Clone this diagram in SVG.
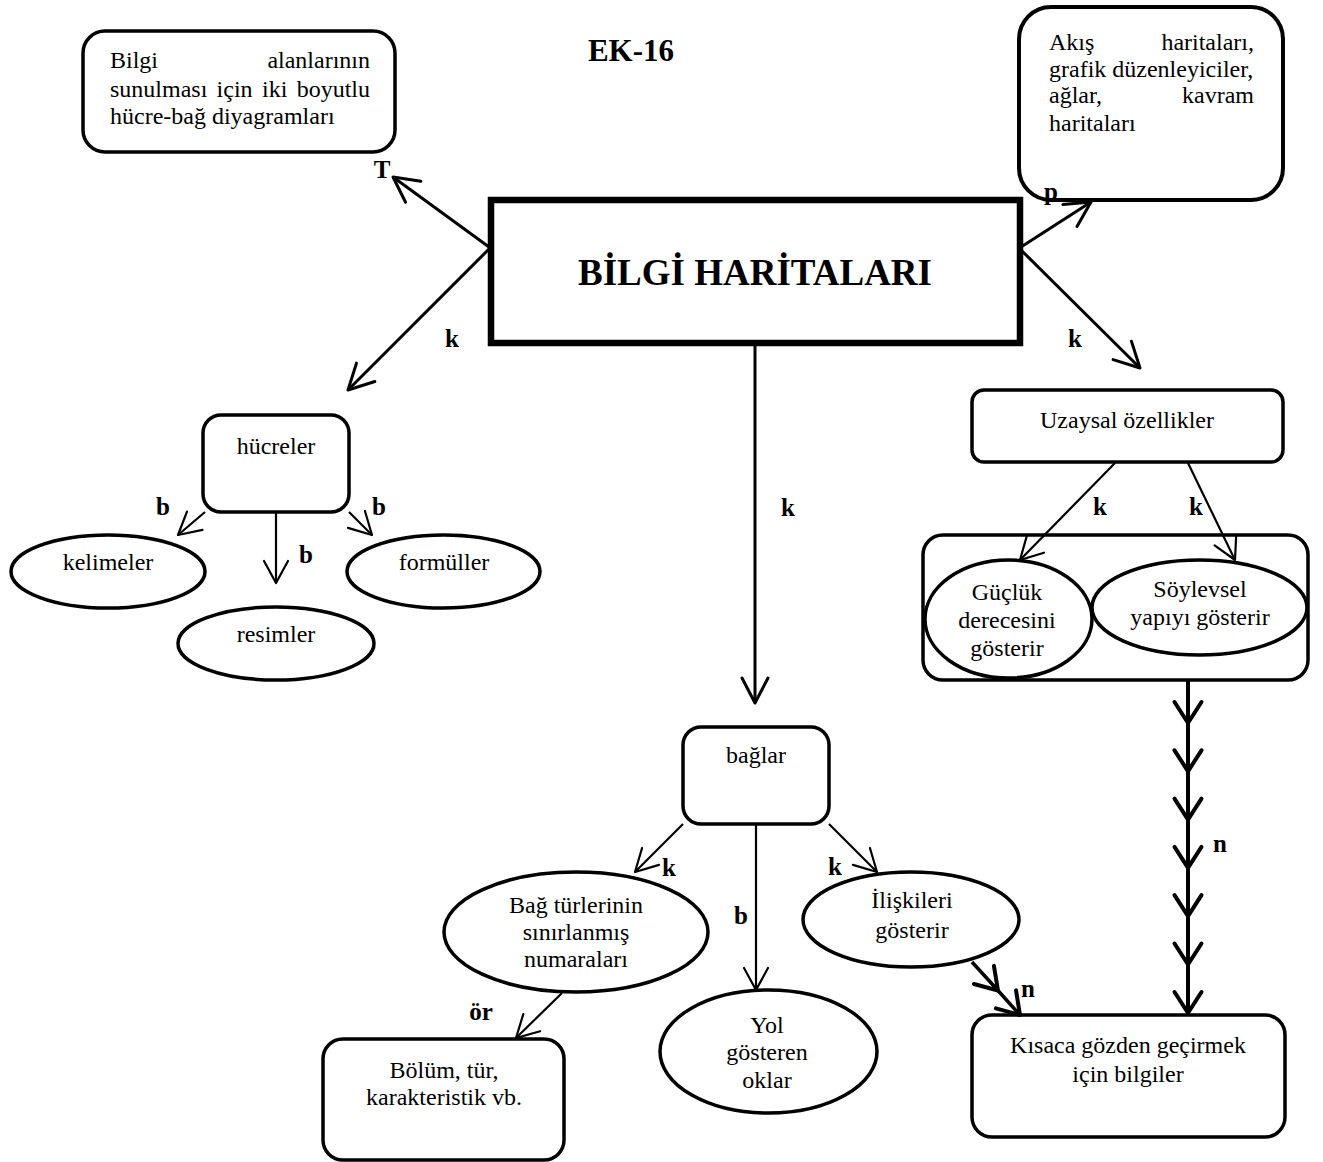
<svg xmlns="http://www.w3.org/2000/svg" width="1323" height="1162" viewBox="0 0 1323 1162">
<style>
  .bg{fill:#fff}
  .box{fill:#fff;stroke:#000;stroke-width:3.5}
  .ell{fill:#fff;stroke:#000;stroke-width:3.5}
  .main{fill:#fff;stroke:#000;stroke-width:6.5}
  .t{font-family:"Liberation Serif","Times New Roman",serif;font-size:24px;fill:#000}
  .c{text-anchor:middle}
  .e{text-anchor:end}
  .lbl{font-family:"Liberation Serif","Times New Roman",serif;font-size:25px;font-weight:bold;fill:#000;text-anchor:middle}
  .title{font-family:"Liberation Serif","Times New Roman",serif;font-size:31px;font-weight:bold;fill:#000;text-anchor:middle}
  .big{font-family:"Liberation Serif","Times New Roman",serif;font-size:37px;font-weight:bold;fill:#000;text-anchor:middle}
  .a3{fill:none;stroke:#000;stroke-width:3;marker-end:url(#ah3)}
  .a2{fill:none;stroke:#000;stroke-width:2.2;marker-end:url(#ah2)}
  .a4{fill:none;stroke:#000;stroke-width:4;marker-mid:url(#ah4);marker-end:url(#ah4)}
</style>
<defs>
  <marker id="ah3" markerUnits="userSpaceOnUse" markerWidth="60" markerHeight="60" refX="0" refY="0" orient="auto" overflow="visible">
    <path d="M-25,-13 L0,0 L-25,13" fill="none" stroke="#000" stroke-width="3" stroke-linecap="round" stroke-linejoin="round"/>
  </marker>
  <marker id="ah2" markerUnits="userSpaceOnUse" markerWidth="60" markerHeight="60" refX="0" refY="0" orient="auto" overflow="visible">
    <path d="M-22,-12 L0,0 L-22,12" fill="none" stroke="#000" stroke-width="2.2" stroke-linecap="round" stroke-linejoin="round"/>
  </marker>
  <marker id="ah4" markerUnits="userSpaceOnUse" markerWidth="60" markerHeight="60" refX="0" refY="0" orient="auto" overflow="visible">
    <path d="M-21,-13.5 L0,0 L-21,13.5" fill="none" stroke="#000" stroke-width="4" stroke-linecap="round" stroke-linejoin="round"/>
  </marker>
</defs>
<rect class="bg" x="0" y="0" width="1323" height="1162"/>

<g id="title"><text class="title" x="631" y="61">EK-16</text></g>

<g id="n-hucre-bag">
  <rect class="box" x="83" y="31" width="312" height="121" rx="22"/>
  <text class="t" x="110" y="68">Bilgi</text>
  <text class="t e" x="370" y="68">alanlarının</text>
  <text class="t" x="110" y="97">sunulması</text>
  <text class="t" x="216.6" y="97">için</text>
  <text class="t" x="262" y="97">iki</text>
  <text class="t e" x="370" y="97">boyutlu</text>
  <text class="t" x="110" y="124">hücre-bağ diyagramları</text>
</g>

<g id="n-akis">
  <rect class="box" x="1019" y="7" width="264" height="193" rx="32" style="stroke-width:4"/>
  <text class="t" x="1049" y="50">Akış</text>
  <text class="t e" x="1254" y="50">haritaları,</text>
  <text class="t" x="1049" y="77">grafik düzenleyiciler,</text>
  <text class="t" x="1049" y="103">ağlar,</text>
  <text class="t e" x="1254" y="103">kavram</text>
  <text class="t" x="1049" y="131">haritaları</text>
</g>

<g id="n-main">
  <rect class="main" x="491" y="200" width="529" height="143"/>
  <text class="big" x="755" y="285">BİLGİ HARİTALARI</text>
</g>

<g id="n-hucreler">
  <rect class="box" x="203" y="415" width="146" height="97" rx="18"/>
  <text class="t c" x="276" y="454">hücreler</text>
</g>
<g id="n-kelimeler">
  <ellipse class="ell" cx="108" cy="571.5" rx="97" ry="36.5"/>
  <text class="t c" x="108" y="570">kelimeler</text>
</g>
<g id="n-formuller">
  <ellipse class="ell" cx="443.5" cy="571.5" rx="96.5" ry="36.5"/>
  <text class="t c" x="444" y="570">formüller</text>
</g>
<g id="n-resimler">
  <ellipse class="ell" cx="276" cy="643.5" rx="98" ry="36.5"/>
  <text class="t c" x="276" y="642">resimler</text>
</g>

<g id="n-uzaysal">
  <rect class="box" x="972" y="390" width="311" height="72" rx="12"/>
  <text class="t c" x="1127" y="428">Uzaysal özellikler</text>
</g>
<g id="n-container">
  <rect class="box" x="923" y="535" width="385" height="145" rx="20"/>
</g>
<g id="n-guclukl">
  <ellipse class="ell" cx="1008.5" cy="619" rx="83.5" ry="59"/>
  <text class="t c" x="1007" y="600">Güçlük</text>
  <text class="t c" x="1007" y="628">derecesini</text>
  <text class="t c" x="1007" y="656">gösterir</text>
</g>
<g id="n-soylevsel">
  <ellipse class="ell" cx="1199.5" cy="607.5" rx="107.5" ry="47.5"/>
  <text class="t c" x="1200" y="597">Söylevsel</text>
  <text class="t c" x="1200" y="625">yapıyı gösterir</text>
</g>

<g id="n-baglar">
  <rect class="box" x="683" y="727" width="146" height="97" rx="18"/>
  <text class="t c" x="756" y="763">bağlar</text>
</g>
<g id="n-bag-turleri">
  <ellipse class="ell" cx="576" cy="932" rx="132" ry="60"/>
  <text class="t c" x="576" y="913">Bağ türlerinin</text>
  <text class="t c" x="576" y="940">sınırlanmış</text>
  <text class="t c" x="576" y="967">numaraları</text>
</g>
<g id="n-yol">
  <ellipse class="ell" cx="768.5" cy="1051.5" rx="108.5" ry="61.5"/>
  <text class="t c" x="767" y="1033">Yol</text>
  <text class="t c" x="767" y="1060">gösteren</text>
  <text class="t c" x="767" y="1088">oklar</text>
</g>
<g id="n-iliskileri">
  <ellipse class="ell" cx="911" cy="919.5" rx="108" ry="47.5"/>
  <text class="t c" x="912" y="908">İlişkileri</text>
  <text class="t c" x="912" y="938">gösterir</text>
</g>
<g id="n-bolum">
  <rect class="box" x="323" y="1039" width="241" height="121" rx="20"/>
  <text class="t c" x="444" y="1078">Bölüm, tür,</text>
  <text class="t c" x="444" y="1105">karakteristik vb.</text>
</g>
<g id="n-kisaca">
  <rect class="box" x="972" y="1015" width="313" height="122" rx="20"/>
  <text class="t c" x="1128" y="1053">Kısaca gözden geçirmek</text>
  <text class="t c" x="1128" y="1082">için bilgiler</text>
</g>

<g id="connectors">
  <path class="a3" d="M489,247 L393,177"/>
  <path class="a3" d="M489,249 L348,390"/>
  <path class="a3" d="M1021,247 L1091,202"/>
  <path class="a3" d="M1021,250 L1140,368"/>
  <path class="a3" d="M755,346 L755,703"/>
  <path class="a2" d="M205,512 L178,535"/>
  <path class="a2" d="M276,513 L276,583"/>
  <path class="a2" d="M349,512 L372,535"/>
  <path class="a2" d="M1115,463 L1020,560"/>
  <path class="a2" d="M1188,463 L1235,560"/>
  <path class="a4" d="M1188,680 L1188,723 L1188,771.3 L1188,819.6 L1188,867.9 L1188,916.2 L1188,964.5 L1188,1013"/>
  <path class="a2" d="M683,824 L635,872"/>
  <path class="a2" d="M756,824 L756,990"/>
  <path class="a2" d="M829,824 L877,872"/>
  <path class="a2" d="M562,993 L516,1038"/>
  <path class="a4" style="stroke-width:3.5" d="M972,962 L998,990.5 L1020,1015"/>
  <text class="lbl" x="382" y="178">T</text>
  <text class="lbl" x="452" y="347">k</text>
  <text class="lbl" x="1051" y="200">p</text>
  <text class="lbl" x="1075" y="347">k</text>
  <text class="lbl" x="788" y="516">k</text>
  <text class="lbl" x="163" y="515">b</text>
  <text class="lbl" x="306" y="563">b</text>
  <text class="lbl" x="379" y="515">b</text>
  <text class="lbl" x="1100" y="515">k</text>
  <text class="lbl" x="1196" y="515">k</text>
  <text class="lbl" x="1220" y="852">n</text>
  <text class="lbl" x="1028" y="997">n</text>
  <text class="lbl" x="669" y="876">k</text>
  <text class="lbl" x="741" y="924">b</text>
  <text class="lbl" x="835" y="875">k</text>
  <text class="lbl" x="481" y="1020">ör</text>
</g>
</svg>
